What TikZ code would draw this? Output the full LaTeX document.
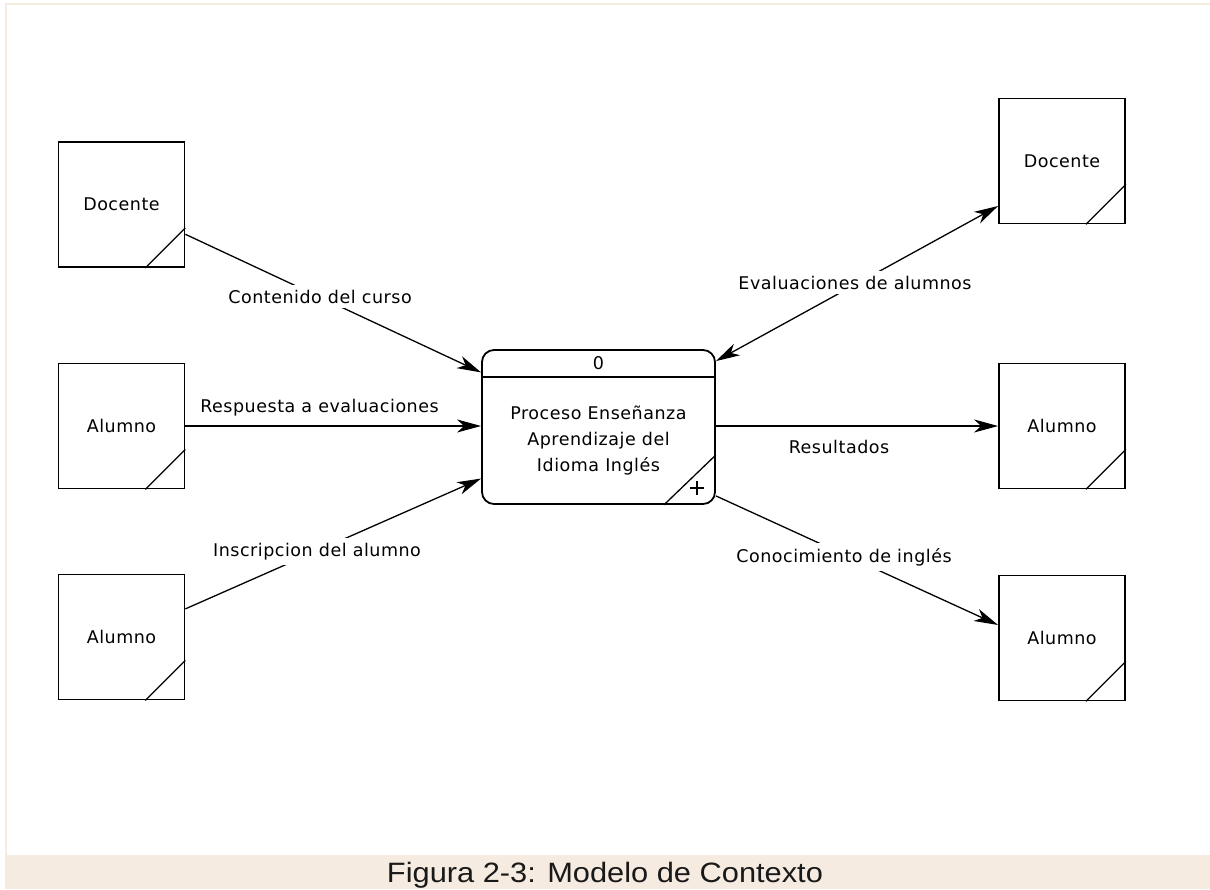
\documentclass[tikz,border=0pt]{standalone}
\usepackage{fontspec}
\setmainfont{DejaVu Sans}[LetterSpace=3]
\newfontfamily\capfont{Liberation Sans}
\usetikzlibrary{arrows.meta,calc}
\definecolor{framebg}{RGB}{245,235,224}

\begin{document}
\begin{tikzpicture}[x=1pt,y=-1pt,
  >={Stealth[length=24pt,width=13pt,inset=7pt]},
  txt/.style={font=\fontsize{17.5}{26}\selectfont},
  entity/.style={draw, line width=1.8pt, minimum width=126pt, minimum height=125pt, inner sep=0pt, txt},
  process/.style={draw, line width=1.8pt, rounded corners=12pt, minimum width=233pt, minimum height=154pt, inner sep=0pt},
  flow/.style={line width=1.3pt},
  lbl/.style={txt, fill=white, inner sep=5pt, anchor=base}]

% page frame and caption band
\useasboundingbox (0,0) rectangle (1210,889);
\fill[framebg] (5,3) rectangle (1210,889);
\fill[white] (7,5) rectangle (1210,855);

% external entities
\node[entity] (d1) at (121.5,204.5) {Docente};
\node[entity] (a1) at (121.5,426) {Alumno};
\node[entity] (a2) at (121.5,637) {Alumno};
\node[entity] (d2) at (1062,161) {Docente};
\node[entity] (a3) at (1062,426) {Alumno};
\node[entity] (a4) at (1062,638) {Alumno};
\foreach \n in {d1,a1,a2,d2,a3,a4}
  \draw[line width=1.3pt] ($(\n.south east)+(-40,0)$) -- ($(\n.south east)+(0,-40)$);

% central process
\node[process] (p) at (598.5,427) {};
\draw[line width=1.5pt] ($(p.north west)+(0,28)$) -- ($(p.north east)+(0,28)$);
\node[txt, anchor=base] (pid) at (598.5,369) {0};
\node[txt, align=center] (ptext) at (598.5,441) {Proceso Enseñanza\\Aprendizaje del\\Idioma Inglés};
\draw[line width=1.3pt] ($(p.south east)+(-52,0)$) -- ($(p.south east)+(0,-50)$);
\coordinate (pl) at ($(p.south east)+(-19,-17)$);
\draw[line width=1.3pt] ($(pl)+(-7,0)$) -- ($(pl)+(7,0)$) ($(pl)+(0,-7)$) -- ($(pl)+(0,7)$);

% data flows
\draw[flow,->] (d1) -- (p);
\draw[flow,->] (a1.east) -- (a1.east -| p.west);
\draw[flow,->] (a2) -- (p);
\draw[flow,<->] ($(p.north east)+(0,12)$) -- ($(d2.west)+(0,45)$);
\draw[flow,->] (p.east |- a3.west) -- (a3.west);
\draw[flow,->] ($(p.south east)+(0,-9)$) -- ($(a4.west)+(0,-13)$);

% flow labels
\node[lbl] (l1) at (320,303) {Contenido del curso};
\node[lbl, fill=none] (l2) at (319.5,412) {Respuesta a evaluaciones};
\node[lbl] (l3) at (317,556) {Inscripcion del alumno};
\node[lbl] (l4) at (855,289) {Evaluaciones de alumnos};
\node[lbl, fill=none] (l5) at (839,453) {Resultados};
\node[lbl] (l6) at (844,562) {Conocimiento de inglés};

% caption
\node[font=\capfont\fontsize{28}{28}\selectfont, anchor=base, xscale=1.1, text=black!90] (cap) at (605,882) {Figura 2-3: Modelo de Contexto};
\end{tikzpicture}
\end{document}
